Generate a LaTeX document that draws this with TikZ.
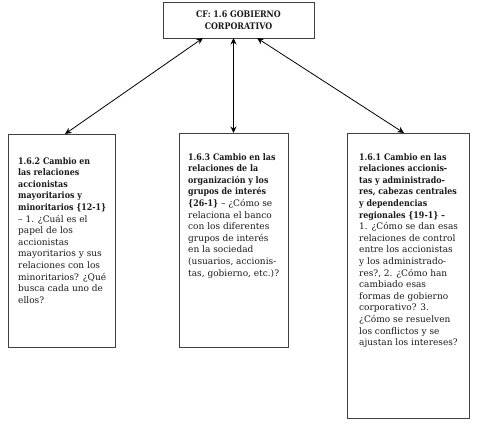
\documentclass[tikz,border=0pt]{standalone}
\usepackage{fontspec}
\setmainfont{DejaVu Serif}[BoldFeatures={FakeStretch=0.88}]
\usetikzlibrary{arrows.meta}
\begin{document}
\begin{tikzpicture}[x=1pt,y=-1pt,
  box/.style={draw=black!75, line width=0.9pt},
  txt/.style={anchor=north west, inner sep=0pt, align=left, font=\fontsize{9}{11.6}\selectfont, text=black!90},
  link/.style={line width=0.8pt, {Stealth[length=6.5pt,width=6pt]}-{Stealth[length=6.5pt,width=6pt]}}]
\useasboundingbox (0,0) rectangle (477,424);
\draw[box] (163,2) rectangle (314,38);
\node[font=\bfseries\fontsize{9}{12}\selectfont, align=center, text=black!90] (top) at (238.5,20.5) {CF: 1.6 GOBIERNO\\CORPORATIVO};
\coordinate (t1) at (203,38);
\coordinate (t2) at (233.5,38);
\coordinate (t3) at (257,38);
\draw[box] (8,134) rectangle (115,347);
\draw[box] (179,133) rectangle (288,347);
\draw[box] (347,133) rectangle (469,418);
\coordinate (b1) at (65,134);
\coordinate (b2) at (233.5,133);
\coordinate (b3) at (404,133);
\draw[link] (t1) -- (b1);
\draw[link] (t2) -- (b2);
\draw[link] (t3) -- (b3);
\node[txt] (n1) at (18,157) {\textbf{1.6.2 Cambio en}\\ \textbf{las relaciones}\\ \textbf{accionistas}\\ \textbf{mayoritarios y}\\ \textbf{minoritarios \{12-1\}}\\ – 1. ¿Cuál es el\\ papel de los\\ accionistas\\ mayoritarios y sus\\ relaciones con los\\ minoritarios? ¿Qué\\ busca cada uno de\\ ellos?};
\node[txt] (n2) at (188,153) {\textbf{1.6.3 Cambio en las}\\ \textbf{relaciones de la}\\ \textbf{organización y los}\\ \textbf{grupos de interés}\\ \textbf{\{26-1\}} – ¿Cómo se\\ relaciona el banco\\ con los diferentes\\ grupos de interés\\ en la sociedad\\ (usuarios, accionis-\\ tas, gobierno, etc.)?};
\node[txt] (n3) at (359,153) {\textbf{1.6.1 Cambio en las}\\ \textbf{relaciones accionis-}\\ \textbf{tas y administrado-}\\ \textbf{res, cabezas centrales}\\ \textbf{y dependencias}\\ \textbf{regionales \{19-1\} –}\\ 1. ¿Cómo se dan esas\\ relaciones de control\\ entre los accionistas\\ y los administrado-\\ res?, 2. ¿Cómo han\\ cambiado esas\\ formas de gobierno\\ corporativo? 3.\\ ¿Cómo se resuelven\\ los conflictos y se\\ ajustan los intereses?};
\end{tikzpicture}
\end{document}
